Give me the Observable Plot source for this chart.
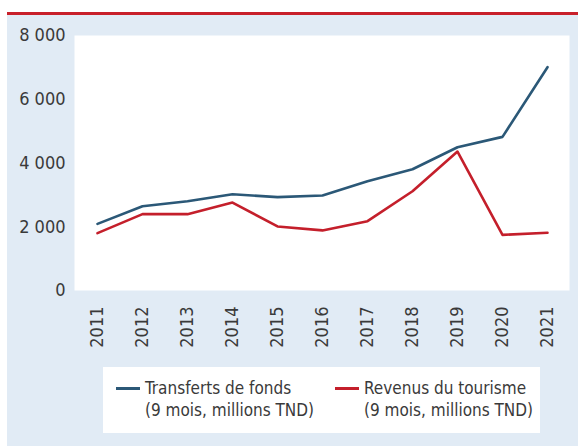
<!DOCTYPE html>
<html>
<head>
<meta charset="utf-8">
<script src="https://cdn.jsdelivr.net/npm/d3@7"></script>
<script src="https://cdn.jsdelivr.net/npm/@observablehq/plot@0.6"></script>
<style>
  html, body { margin: 0; padding: 0; background: #ffffff; }
  #wrap { position: relative; width: 578px; height: 446px; overflow: hidden;
          font-family: "Liberation Sans Narrow", "DejaVu Sans Condensed", "Roboto", sans-serif; }
  #bg { position: absolute; left: 7px; top: 15px; width: 571px; height: 431px; background: #e1ebf5; }
  #topline { position: absolute; left: 7px; top: 12px; width: 571px; height: 3px; background: #c8202a; }
  #chart { position: absolute; left: 0; top: 0; }
  #legend { position: absolute; left: 103px; top: 367px; width: 437px; height: 66px; background: #ffffff;
            color: #3a3a3a; font-size: 17px; line-height: 22px; }
  .item { position: absolute; top: 10px; }
  .sw { position: absolute; top: 10px; width: 24px; height: 3px; }
  .txt { position: absolute; left: 29px; top: 0; white-space: nowrap; }
</style>
</head>
<body>
<div id="wrap">
  <div id="bg"></div>
  <div id="topline"></div>
  <div id="chart"></div>
  <div id="legend"></div>
</div>
<script>
const years = ["2011","2012","2013","2014","2015","2016","2017","2018","2019","2020","2021"];
const transferts = [2090, 2645, 2800, 3020, 2930, 2980, 3430, 3805, 4495, 4820, 7005];
const tourisme = [1800, 2395, 2395, 2760, 2010, 1885, 2175, 3115, 4360, 1745, 1810];
const yTicks = [0, 2000, 4000, 6000, 8000];
const seriesNames = ["Transferts de fonds", "Revenus du tourisme"];
const seriesSub = ["(9 mois, millions TND)", "(9 mois, millions TND)"];
const colors = ["#2b5877", "#c41f2b"];

const rowsA = years.map((y, i) => ({year: y, value: transferts[i]}));
const rowsB = years.map((y, i) => ({year: y, value: tourisme[i]}));

const fmt = d => d3.format(",")(d).replace(/,/g, " ");

const chart = Plot.plot({
  width: 578,
  height: 360,
  marginLeft: 74,
  marginRight: 9,
  marginTop: 35,
  marginBottom: 70,
  style: {background: "transparent", fontFamily: "\"Liberation Sans Narrow\", \"DejaVu Sans Condensed\", sans-serif", fontSize: "18px", color: "#3a3a3a"},
  x: {type: "point", domain: years, padding: 0.5, label: null},
  y: {domain: [0, 8000], label: null},
  marks: [
    Plot.frame({fill: "white", stroke: null}),
    Plot.axisY({ticks: yTicks, tickFormat: fmt, tickSize: 0, tickPadding: 9, label: null, fontSize: 18}),
    Plot.axisX({tickRotate: -90, tickSize: 0, tickPadding: 16, label: null, fontSize: 18}),
    Plot.line(rowsA, {x: "year", y: "value", stroke: colors[0], strokeWidth: 2.6}),
    Plot.line(rowsB, {x: "year", y: "value", stroke: colors[1], strokeWidth: 2.6})
  ]
});
document.getElementById("chart").appendChild(chart);

const legend = document.getElementById("legend");
const lefts = [13, 232];
seriesNames.forEach((n, i) => {
  const it = document.createElement("div");
  it.className = "item";
  it.style.left = lefts[i] + "px";
  it.innerHTML = `<div class="sw" style="background:${colors[i]}"></div><div class="txt">${n}<br>${seriesSub[i]}</div>`;
  legend.appendChild(it);
});
</script>
</body>
</html>
